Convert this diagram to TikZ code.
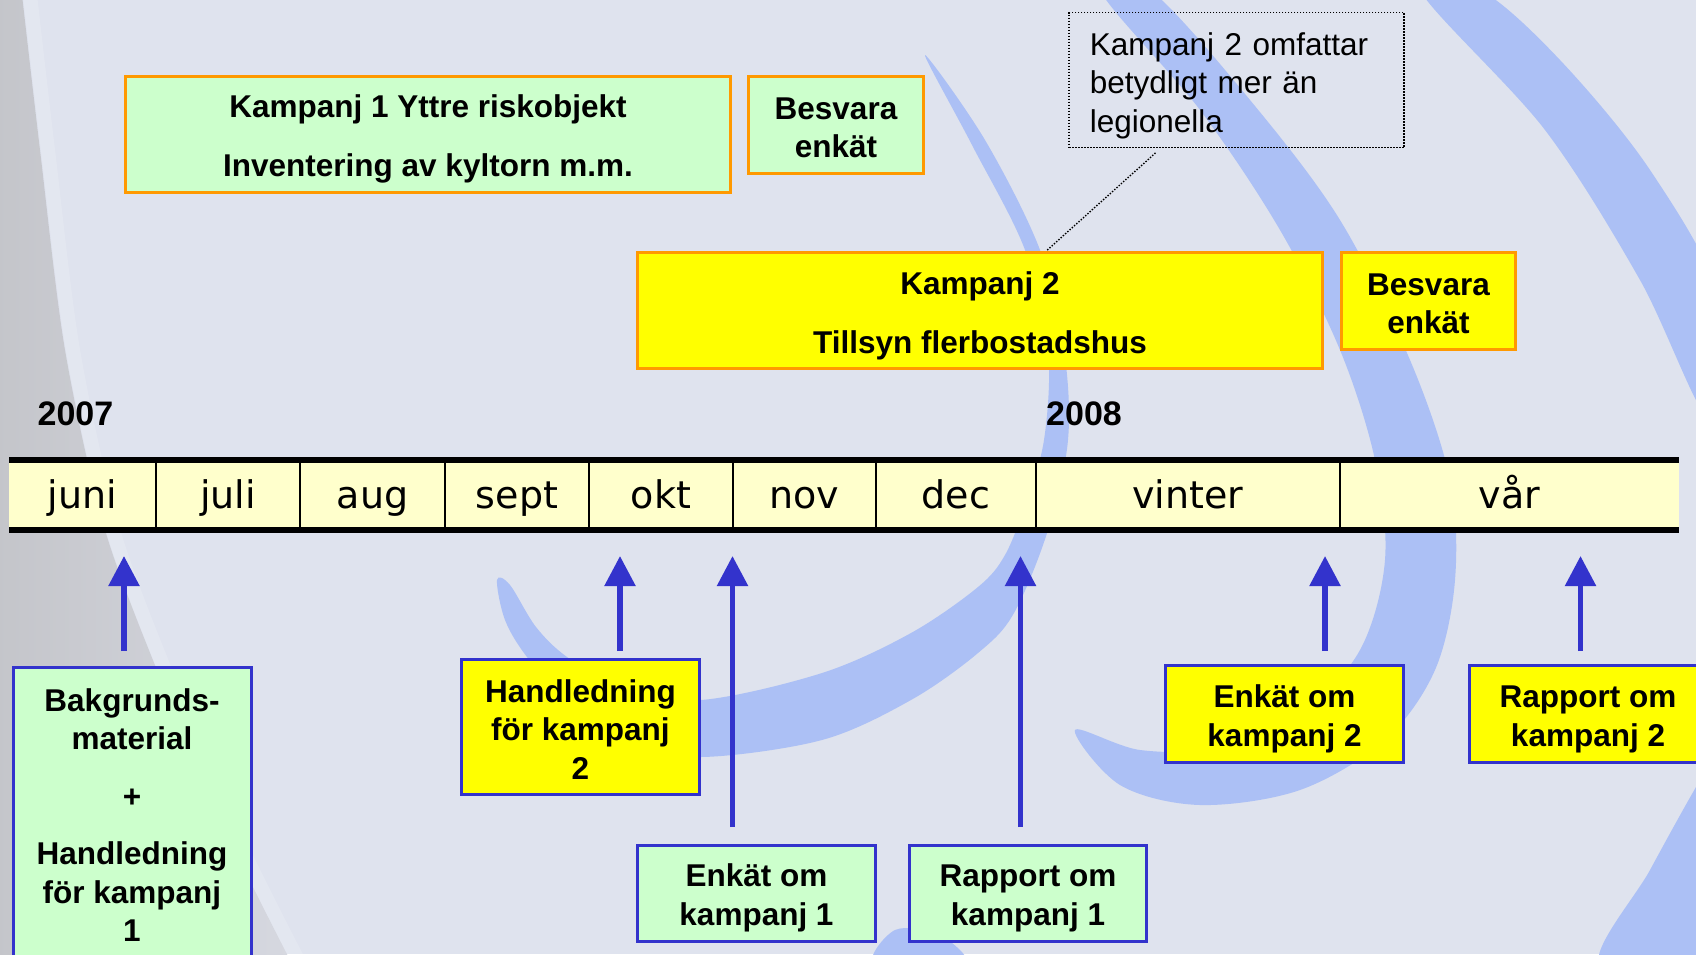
\documentclass[tikz,border=0pt]{standalone}
\usepackage{fontspec}
\setmainfont{Liberation Sans}
\newfontfamily\monthfont{DejaVu Sans}
\usetikzlibrary{arrows.meta}
\newcommand\liftby[1]{\rule{0pt}{#1}}
\definecolor{bgc}{RGB}{223,227,238}
\definecolor{swc}{RGB}{172,192,245}
\definecolor{grayA}{RGB}{196,197,202}
\definecolor{grayB}{RGB}{214,216,224}
\definecolor{paleGreen}{HTML}{CCFFCC}
\definecolor{brightYellow}{HTML}{FFFF00}
\definecolor{orangeLine}{HTML}{FF9900}
\definecolor{blueLine}{HTML}{3333CC}
\definecolor{creamFill}{HTML}{FFFFCC}
\tikzset{
  boxtext/.style={font=\fontsize{31.5}{38.5}\selectfont\bfseries, align=center, inner sep=0pt},
  topbox/.style={boxtext, draw=orangeLine, line width=3pt},
  botbox/.style={boxtext, draw=blueLine, line width=3pt},
  greenbox/.style={fill=paleGreen},
  yellowbox/.style={fill=brightYellow},
  notebox/.style={draw=black, line width=1.6pt, dash pattern=on 1.6pt off 1.4pt,
    font=\fontsize{31.5}{38.5}\selectfont, align=left, inner ysep=0pt, inner xsep=20.5pt},
  monthlbl/.style={font=\monthfont\fontsize{38}{40}\selectfont, anchor=base, inner sep=0pt},
  yearlbl/.style={font=\fontsize{34}{40}\selectfont\bfseries, anchor=base, inner sep=0pt},
  uparrow/.style={draw=blueLine, line width=5.5pt, -{Triangle[width=30pt,length=30pt]}},
  barline/.style={line width=6pt},
  sepline/.style={line width=2.5pt},
  swoosh/.style={fill=swc},
  noteline/.style={line width=1.4pt, dash pattern=on 1.4pt off 1.6pt},
}
\begin{document}
\begin{tikzpicture}[x=1pt,y=-1pt]
\useasboundingbox (0,0) rectangle (1696,954);
\clip (0,0) rectangle (1696,954);
% background
\fill[bgc] (0,0) rectangle (1696,954);
\shade[left color=grayA, right color=grayB] (-5,-5) -- plot[smooth] coordinates {(22,-5) (40,150) (65,350) (105,530) (165,690) (230,840) (290,960)} -- (-5,960) -- cycle;
\draw[white, opacity=0.15, line width=14pt] plot[smooth] coordinates {(30,-5) (48,150) (73,350) (113,530) (173,690) (238,840) (298,960)};
% swooshes
\fill[swoosh] plot[smooth cycle, tension=0.55] coordinates {
  (925,55) (985,140) (1040,250) (1064,350) (1068,440) (1048,530) (1014,613) (978,653) (911,700) (822,740) (701,757) (630,742) (570,705) (527,657) (505,620) (497,580)
  (510,585) (536,627) (567,657) (620,688) (701,700) (822,673) (911,633) (978,587) (1005,555) (1025,505) (1044,440) (1048,350) (1025,250) (972,145)};
\fill[swoosh] plot[smooth cycle, tension=0.55] coordinates {
  (1150,-10) (1250,100) (1340,220) (1410,360) (1450,480) (1455,580) (1435,670) (1385,740) (1300,790) (1200,805) (1120,785) (1075,730)
  (1140,750) (1220,748) (1300,715) (1360,650) (1385,560) (1375,460) (1340,350) (1280,230) (1200,110) (1100,-10)};
\fill[swoosh] plot[smooth cycle, tension=0.55] coordinates {
  (1420,-10) (1545,130) (1640,280) (1710,420) (1720,300) (1650,170) (1560,60) (1480,-10)};
\fill[swoosh] plot[smooth cycle, tension=0.55] coordinates {
  (1720,750) (1696,787) (1650,870) (1600,965) (1720,965)};
\fill[swoosh] plot[smooth cycle, tension=0.55] coordinates {
  (875,965) (895,930) (940,935) (965,965)};
% top boxes
\node[topbox, greenbox, minimum width=605pt, minimum height=116pt] (k1) at (428,134.5)
  {\liftby{32pt}Kampanj 1 Yttre riskobjekt\\[20pt]Inventering av kyltorn m.m.};
\node[topbox, greenbox, minimum width=175pt, minimum height=97pt] (b1) at (836,125)
  {\liftby{27.5pt}Besvara\\enkät};
\node[topbox, yellowbox, minimum width=685pt, minimum height=116pt] (k2) at (980,310.5)
  {\liftby{34pt}Kampanj 2\\[20pt]Tillsyn flerbostadshus};
\node[topbox, yellowbox, minimum width=174pt, minimum height=97pt] (b2) at (1428.5,301)
  {\liftby{27.5pt}Besvara\\enkät};
\node[notebox, text width=294pt, minimum height=135pt] (note) at (1236.75,80)
  {\liftby{34pt}Kampanj 2 omfattar\\betydligt mer än\\legionella};
\draw[noteline, shorten <=7pt] (note) -- (k2);
% years
\node[yearlbl] (y7) at (75.5,425) {2007};
\node[yearlbl] (y8) at (1084,425) {2008};
% timeline
\fill[creamFill] (9,462) rectangle (1679,529);
\draw[barline] (9,460) -- (1679,460);
\draw[barline] (9,530) -- (1679,530);
\foreach \sx in {156,300,445,589,733,876,1036,1340}
  \draw[sepline] (\sx,463) -- (\sx,527);
\node[monthlbl] (mjun) at (82.5,508) {juni};
\node[monthlbl] (mjul) at (228,508) {juli};
\node[monthlbl] (maug) at (372.5,508) {aug};
\node[monthlbl] (msep) at (517,508) {sept};
\node[monthlbl] (mokt) at (661,508) {okt};
\node[monthlbl] (mnov) at (804.5,508) {nov};
\node[monthlbl] (mdec) at (956,508) {dec};
\node[monthlbl] (mvin) at (1188,508) {vinter};
\node[monthlbl] (mvar) at (1509.5,508) {vår};
% bottom boxes
\node[botbox, greenbox, minimum width=238pt, minimum height=295.5pt] (bak) at (132,815.25)
  {Bakgrunds-\\material\\[19pt]+\\[19pt]Handledning\\för kampanj\\1};
\node[botbox, yellowbox, minimum width=238pt, minimum height=135pt] (hk2) at (580.5,727)
  {\liftby{27.5pt}Handledning\\för kampanj\\2};
\node[botbox, greenbox, minimum width=238pt, minimum height=96pt] (ek1) at (756.5,893)
  {\liftby{33pt}Enkät om\\kampanj 1};
\node[botbox, greenbox, minimum width=237pt, minimum height=96pt] (rk1) at (1028,893)
  {\liftby{33pt}Rapport om\\kampanj 1};
\node[botbox, yellowbox, minimum width=238pt, minimum height=97pt] (ek2) at (1284.5,714)
  {\liftby{33pt}Enkät om\\kampanj 2};
\node[botbox, yellowbox, minimum width=237pt, minimum height=97pt] (rk2) at (1588,714)
  {\liftby{33pt}Rapport om\\kampanj 2};
% arrows
\coordinate (a1s) at (124,651);    \coordinate (a1e) at (124,556);
\coordinate (a2s) at (620,651);    \coordinate (a2e) at (620,556);
\coordinate (a3s) at (732.5,827);  \coordinate (a3e) at (732.5,556);
\coordinate (a4s) at (1020.5,827); \coordinate (a4e) at (1020.5,556);
\coordinate (a5s) at (1325,651);   \coordinate (a5e) at (1325,556);
\coordinate (a6s) at (1580.5,651); \coordinate (a6e) at (1580.5,556);
\foreach \i in {1,...,6}
  \draw[uparrow] (a\i s) -- (a\i e);
\end{tikzpicture}
\end{document}
